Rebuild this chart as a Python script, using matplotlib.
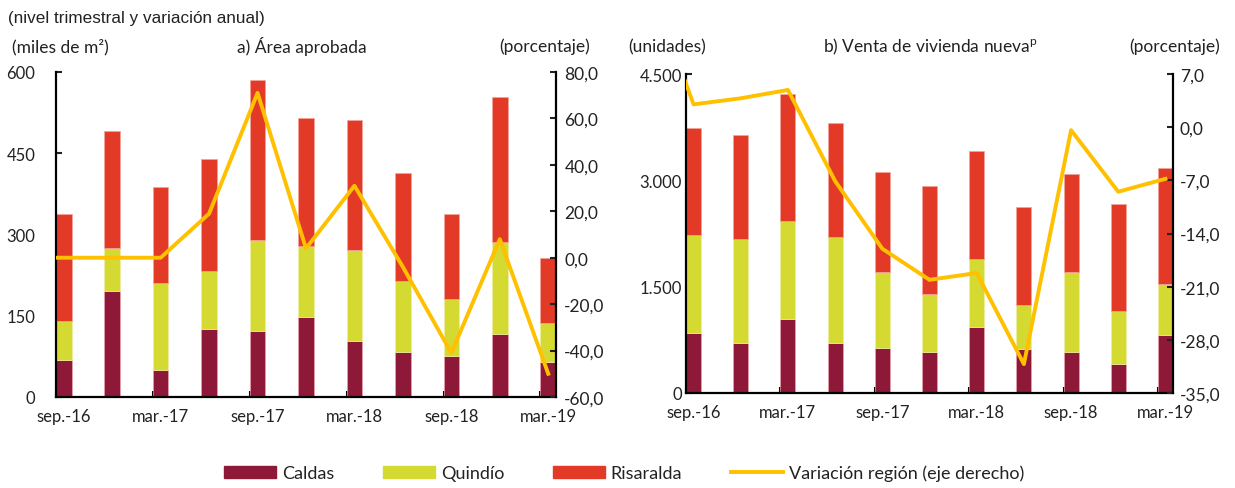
import matplotlib.pyplot as plt
import numpy as np

plt.rcParams['font.family'] = ['Lato', 'DejaVu Sans']

# Trimestres
trimestres = ['sep.-16', 'dic.-16', 'mar.-17', 'jun.-17', 'sep.-17', 'dic.-17',
              'mar.-18', 'jun.-18', 'sep.-18', 'dic.-18', 'mar.-19']
etiquetas_x = ['sep.-16', 'mar.-17', 'sep.-17', 'mar.-18', 'sep.-18', 'mar.-19']

# a) Área aprobada (miles de m2)
area_caldas = [68, 196, 50, 125, 122, 147, 103, 84, 76, 117, 64]
area_quindio = [72, 79, 161, 108, 168, 132, 168, 131, 105, 169, 72]
area_risaralda = [198, 217, 176, 207, 295, 236, 240, 199, 157, 268, 120]
# variación anual (%), con el trimestre previo (jun.-16) al principio
area_var_prev = 0.0
area_var = [0.0, 0.0, 0.0, 19.0, 71.0, 4.0, 31.0, -4.0, -41.0, 8.0, -50.0]

# b) Venta de vivienda nueva (unidades)
venta_caldas = [841, 700, 1040, 700, 638, 581, 931, 615, 581, 407, 813]
venta_quindio = [1386, 1470, 1390, 1498, 1069, 814, 955, 633, 1126, 751, 723]
venta_risaralda = [1508, 1475, 1787, 1617, 1413, 1526, 1522, 1380, 1385, 1503, 1645]
venta_var_prev = 20.0
venta_var = [3.0, 3.8, 4.9, -7.1, -16.0, -20.1, -19.2, -31.2, -0.4, -8.5, -6.8]

col_caldas = '#8E1838'
col_quindio = '#D5DA33'
col_risaralda = '#E33A28'
col_linea = '#FFC000'
col_texto = '#222222'

fig = plt.figure(figsize=(12.35, 4.89), dpi=100)


def panel(rect, caldas, quindio, risaralda, var_prev, var, ylim, yticks, ylabels,
          y2lim, y2ticks, y2labels, pad_izq, pad_der):
    ax = fig.add_axes(rect)
    w = 0.32
    x = np.arange(len(trimestres))
    c = np.array(caldas)
    q = np.array(quindio)
    r = np.array(risaralda)
    ax.bar(x, c, w, color=col_caldas, edgecolor='#e9a3ad', linewidth=0.5, zorder=2)
    ax.bar(x, q, w, bottom=c, color=col_quindio, edgecolor='#eef0a0', linewidth=0.5, zorder=2)
    ax.bar(x, r, w, bottom=c + q, color=col_risaralda, edgecolor='#f2a49a', linewidth=0.5, zorder=2)
    ax.set_xlim(-w / 2, len(x) - 1 + w / 2)
    ax.set_ylim(*ylim)
    ax.set_yticks(yticks)
    ax.set_yticklabels(ylabels)
    ax.set_xticks(x[::2])
    ax.set_xticklabels(etiquetas_x)
    ax.set_xticks(x[::2] - w / 2, minor=True)
    ax.tick_params(axis='x', which='major', length=0, pad=8, labelsize=12, colors=col_texto)
    ax.tick_params(axis='x', which='minor', direction='in', length=4, width=1.5)
    ax.tick_params(axis='y', direction='in', length=4, width=1.5, pad=pad_izq,
                   labelsize=12, colors=col_texto)
    ax.spines['top'].set_visible(False)
    ax.spines['right'].set_visible(False)
    for s in ['left', 'bottom']:
        ax.spines[s].set_linewidth(1.6)

    ax2 = ax.twinx()
    xl = np.concatenate([[-1], x])
    ax2.plot(xl, [var_prev] + list(var), color=col_linea, linewidth=2.8, zorder=3)
    ax2.set_xlim(-w / 2, len(x) - 1 + w / 2)
    ax2.set_ylim(*y2lim)
    ax2.set_yticks(y2ticks)
    ax2.set_yticklabels(y2labels)
    ax2.tick_params(axis='y', direction='in', length=4, width=1.5, pad=pad_der,
                    labelsize=12.5, colors=col_texto)
    for s in ['top', 'left', 'bottom']:
        ax2.spines[s].set_visible(False)
    ax2.spines['right'].set_linewidth(1.6)
    return ax, ax2


panel([56 / 1235, 91 / 489, 500 / 1235, 325 / 489],
      area_caldas, area_quindio, area_risaralda, area_var_prev, area_var,
      (0, 600), [0, 150, 300, 450, 600], ['0', '150', '300', '450', '600'],
      (-60, 80), [-60, -40, -20, 0, 20, 40, 60, 80],
      ['-60,0', '-40,0', '-20,0', '0,0', '20,0', '40,0', '60,0', '80,0'], 15, 6)

panel([686 / 1235, 95 / 489, 487 / 1235, 319 / 489],
      venta_caldas, venta_quindio, venta_risaralda, venta_var_prev, venta_var,
      (0, 4500), [0, 1500, 3000, 4500], ['0', '1.500', '3.000', '4.500'],
      (-35, 7), [-35, -28, -21, -14, -7, 0, 7],
      ['-35,0', '-28,0', '-21,0', '-14,0', '-7,0', '0,0', '7,0'], 3, 5)

# Textos
fig.text(8 / 1235, 1 - 18 / 489, '(nivel trimestral y variación anual)',
         family=['Liberation Sans'], fontsize=12.3, color=col_texto, va='center')
fig.text(12 / 1235, 1 - 47 / 489, '(miles de m²)', fontsize=12.5, color=col_texto, va='center')
fig.text(302 / 1235, 1 - 47 / 489, 'a) Área aprobada', fontsize=12.5, color=col_texto,
         va='center', ha='center')
fig.text(590 / 1235, 1 - 47 / 489, '(porcentaje)', fontsize=12.5, color=col_texto,
         va='center', ha='right')
fig.text(628 / 1235, 1 - 47 / 489, '(unidades)', fontsize=12.5, color=col_texto, va='center')
fig.text(930 / 1235, 1 - 47 / 489, 'b) Venta de vivienda nueva$^{\\mathregular{p}}$',
         fontsize=12.5, color=col_texto, va='center', ha='center')
fig.text(1220 / 1235, 1 - 47 / 489, '(porcentaje)', fontsize=12.5, color=col_texto,
         va='center', ha='right')

# Leyenda
handles = [plt.Rectangle((0, 0), 1, 1, color=col_caldas),
           plt.Rectangle((0, 0), 1, 1, color=col_quindio),
           plt.Rectangle((0, 0), 1, 1, color=col_risaralda),
           plt.Line2D([0], [0], color=col_linea, linewidth=2.8)]
fig.legend(handles, ['Caldas', 'Quindío', 'Risaralda', 'Variación región (eje derecho)'],
           loc='center', bbox_to_anchor=(624 / 1235, 1 - 474 / 489), ncol=4,
           frameon=False, fontsize=13, handlelength=2.9, handleheight=0.65,
           columnspacing=2.7, handletextpad=0.3, labelcolor=col_texto)

plt.savefig('out.png', dpi=100)
